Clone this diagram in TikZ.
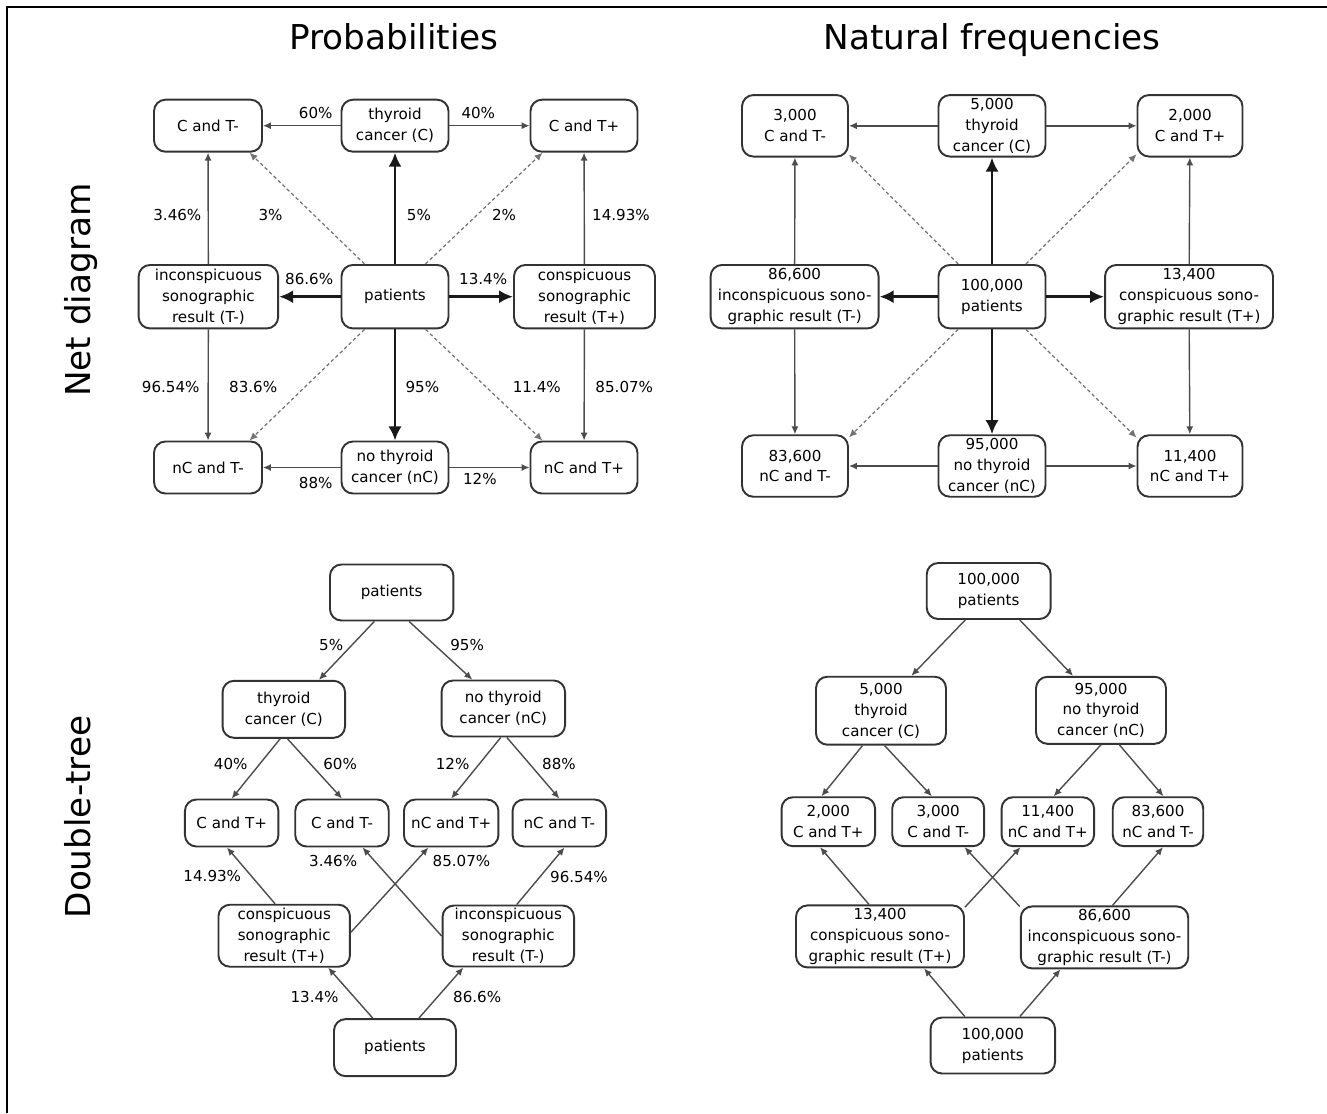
\documentclass[tikz,border=0pt]{standalone}
\usepackage{fontspec}
\setmainfont{DejaVu Sans}
\usetikzlibrary{arrows.meta}

\begin{document}
\begin{tikzpicture}[
            x=0.02cm, y=-0.02cm,
            box/.style={draw=black!80, line width=1.1pt, rounded corners=6.5pt, align=center, inner sep=1pt, font=\fontsize{8.6}{11.9}\selectfont},
            sz/.style 2 args={minimum width=#1, minimum height=#2},
            lbl/.style={inner sep=1.5pt, font=\fontsize{8.6}{10}\selectfont},
            ar/.style={draw=black!70, line width=0.8pt, -{Latex[length=4.5pt,width=4pt]}},
            bigar/.style={draw=black!90, line width=1.6pt, -{Latex[length=8pt,width=7.5pt]}},
            dotar/.style={draw=black!55, line width=0.7pt, dash pattern=on 2pt off 1.5pt, -{Latex[length=4.5pt,width=4pt]}},
            heading/.style={font=\fontsize{19.5}{22}\selectfont}
        ]
            \useasboundingbox (0,0) rectangle (1327,1113);
            \draw [line width=1.2pt] (6.7,1113) -- (6.7,6.7) -- (1327,6.7);

            \node (hp) [heading,anchor=base]          at (394,49.3) {Probabilities};
            \node (hf) [heading,anchor=base]          at (992,49.3) {Natural frequencies};
            \node (hn) [heading,anchor=base,rotate=90] at (90,290)  {Net diagram};
            \node (hd) [heading,anchor=base,rotate=90] at (90,817)  {Double-tree};

            % net diagram, probabilities
            \node (pCm)  [box,sz={2.16cm}{1.04cm}] at (208,125.7)   {C and T-};
            \node (pC)   [box,sz={2.14cm}{1.04cm}] at (395,125.7)   {thyroid\\cancer (C)};
            \node (pCp)  [box,sz={2.14cm}{1.04cm}] at (584,125.7)   {C and T+};
            \node (pTm)  [box,sz={2.79cm}{1.27cm}] at (208.4,296.7) {inconspicuous\\sonographic\\result (T-)};
            \node (pP)   [box,sz={2.14cm}{1.27cm}] at (395,296.7)   {patients};
            \node (pTp)  [box,sz={2.82cm}{1.27cm}] at (584.5,296.7) {conspicuous\\sonographic\\result (T+)};
            \node (pnCm) [box,sz={2.16cm}{1.04cm}] at (208,467.5)   {nC and T-};
            \node (pnC)  [box,sz={2.14cm}{1.04cm}] at (395,467.5)   {no thyroid\\cancer (nC)};
            \node (pnCp) [box,sz={2.14cm}{1.04cm}] at (584,467.5)   {nC and T+};

            \draw [ar]    (pC)  -- node[lbl,pos=0.32,above=2pt]    (p60)   {60\%}    (pCm);
            \draw [ar]    (pC)  -- node[lbl,pos=0.36,above=2pt]    (p40)   {40\%}    (pCp);
            \draw [ar]    (pnC) -- node[lbl,pos=0.32,below=3.4pt]  (p88)   {88\%}    (pnCm);
            \draw [ar]    (pnC) -- node[lbl,pos=0.38,below=1.5pt]  (p12)   {12\%}    (pnCp);
            \draw [ar]    (pTm) -- node[lbl,pos=0.44,left=2pt]     (p346)  {3.46\%}  (pCm);
            \draw [ar]    (pTm) -- node[lbl,pos=0.52,left=3pt]     (p9654) {96.54\%} (pnCm);
            \draw [ar]    (pTp) -- node[lbl,pos=0.44,right=2.6pt]  (p1493) {14.93\%} (pCp);
            \draw [ar]    (pTp) -- node[lbl,pos=0.52,right=4.5pt]  (p8507) {85.07\%} (pnCp);
            \draw [bigar] (pP)  -- node[lbl,pos=0.44,right=4.5pt]  (p5)    {5\%}     (pC);
            \draw [bigar] (pP)  -- node[lbl,pos=0.52,right=3.7pt]  (p95)   {95\%}    (pnC);
            \draw [bigar] (pP)  -- node[lbl,pos=0.51,above=4.8pt]  (p866)  {86.6\%}  (pTm);
            \draw [bigar] (pP)  -- node[lbl,pos=0.53,above=4.8pt]  (p134)  {13.4\%}  (pTp);
            \draw [dotar] (pP.133)  -- node[lbl,pos=0.44,left=16pt]    (p3)   {3\%}    (pCm.-33);
            \draw [dotar] (pP.47)   -- node[lbl,pos=0.44,right=6.7pt]  (p2)   {2\%}    (pCp.-147);
            \draw [dotar] (pP.-133) -- node[lbl,pos=0.52,left=13.8pt]  (p836) {83.6\%} (pnCm.33);
            \draw [dotar] (pP.-47)  -- node[lbl,pos=0.52,right=13.2pt] (p114) {11.4\%} (pnCp.147);

            % net diagram, natural frequencies
            \node (fCm)  [box,sz={2.12cm}{1.23cm}] at (795,125.8)   {3,000\\C and T-};
            \node (fC)   [box,sz={2.14cm}{1.23cm}] at (992,125.8)   {5,000\\thyroid\\cancer (C)};
            \node (fCp)  [box,sz={2.10cm}{1.23cm}] at (1190,125.8)  {2,000\\C and T+};
            \node (fTm)  [box,sz={3.36cm}{1.27cm}] at (794.6,296.7) {86,600\\inconspicuous sono-\\graphic result (T-)};
            \node (fP)   [box,sz={2.14cm}{1.27cm}] at (992,296.7)   {100,000\\patients};
            \node (fTp)  [box,sz={3.36cm}{1.27cm}] at (1189,296.7)  {13,400\\conspicuous sono-\\graphic result (T+)};
            \node (fnCm) [box,sz={2.12cm}{1.23cm}] at (795,466)     {83,600\\nC and T-};
            \node (fnC)  [box,sz={2.14cm}{1.23cm}] at (992,466)     {95,000\\no thyroid\\cancer (nC)};
            \node (fnCp) [box,sz={2.10cm}{1.23cm}] at (1190,466)    {11,400\\nC and T+};

            \draw [ar]    (fC)  -- (fCm);
            \draw [ar]    (fC)  -- (fCp);
            \draw [ar]    (fnC) -- (fnCm);
            \draw [ar]    (fnC) -- (fnCp);
            \draw [ar]    (fTm) -- (fCm);
            \draw [ar]    (fTm) -- (fnCm);
            \draw [ar]    (fTp) -- (fCp);
            \draw [ar]    (fTp) -- (fnCp);
            \draw [bigar] (fP)  -- (fC);
            \draw [bigar] (fP)  -- (fnC);
            \draw [bigar] (fP)  -- (fTm);
            \draw [bigar] (fP)  -- (fTp);
            \draw [dotar] (fP.136)  -- (fCm.-28);
            \draw [dotar] (fP.44)   -- (fCp.-152);
            \draw [dotar] (fP.-136) -- (fnCm.28);
            \draw [dotar] (fP.-44)  -- (fnCp.152);

            % double tree, probabilities
            \node (tP)   [box,sz={2.47cm}{1.12cm}] at (391.7,592.5)  {patients};
            \node (tC)   [box,sz={2.45cm}{1.14cm}] at (283.8,709.3)  {thyroid\\cancer (C)};
            \node (tnC)  [box,sz={2.47cm}{1.12cm}] at (503.3,708.5)  {no thyroid\\cancer (nC)};
            \node (tCp)  [box,sz={1.87cm}{0.94cm}] at (231.7,823)    {C and T+};
            \node (tCm)  [box,sz={1.87cm}{0.94cm}] at (342,823)      {C and T-};
            \node (tnCp) [box,sz={1.89cm}{0.94cm}] at (451.2,823)    {nC and T+};
            \node (tnCm) [box,sz={1.87cm}{0.94cm}] at (559.3,823)    {nC and T-};
            \node (tTp)  [box,sz={2.63cm}{1.24cm}] at (284.2,935.7)  {conspicuous\\sonographic\\result (T+)};
            \node (tTm)  [box,sz={2.63cm}{1.22cm}] at (508.3,936)    {inconspicuous\\sonographic\\result (T-)};
            \node (tQ)   [box,sz={2.44cm}{1.14cm}] at (395,1047.6)   {patients};

            \draw [ar] (tP.-121)  -- node[lbl,pos=0.4,left=3.2pt]   (t5)    {5\%}     (tC.40);
            \draw [ar] (tP.-59)   -- node[lbl,pos=0.4,right=7.2pt]  (t95)   {95\%}    (tnC.137);
            \draw [ar] (tC.-97)   -- node[lbl,pos=0.42,left=5.1pt]  (t40)   {40\%}    (tCp.north);
            \draw [ar] (tC.-83)   -- node[lbl,pos=0.42,right=5.5pt] (t60)   {60\%}    (tCm.north);
            \draw [ar] (tnC.-95)  -- node[lbl,pos=0.43,left=3.8pt]  (t12)   {12\%}    (tnCp.north);
            \draw [ar] (tnC.-83)  -- node[lbl,pos=0.43,right=5.4pt] (t88)   {88\%}    (tnCm.north);
            \draw [ar] (tTp.106)  -- node[lbl,pos=0.49,left=4pt]    (t1493) {14.93\%} (tCp.-101);
            \draw [ar] (tTp.3)    -- node[lbl,pos=0.84,right=7.6pt] (t8507) {85.07\%} (tnCp.-133);
            \draw [ar] (tTm.west) -- node[lbl,pos=0.85,left=7.9pt]  (t346)  {3.46\%}  (tCm.-50);
            \draw [ar] (tTm.75)   -- node[lbl,pos=0.49,right=3.8pt] (t9654) {96.54\%} (tnCm.-78);
            \draw [ar] (tQ.127)   -- node[lbl,pos=0.42,left=6.9pt]  (t134)  {13.4\%}  (tTp.-36);
            \draw [ar] (tQ.51)    -- node[lbl,pos=0.42,right=7pt]   (t866)  {86.6\%}  (tTm.-145);

            % double tree, natural frequencies
            \node (sP)   [box,sz={2.48cm}{1.12cm}] at (988.7,591)    {100,000\\patients};
            \node (sC)   [box,sz={2.6cm}{1.36cm}]  at (881,710.7)    {5,000\\thyroid\\cancer (C)};
            \node (snC)  [box,sz={2.6cm}{1.34cm}]  at (1101,710.3)   {95,000\\no thyroid\\cancer (nC)};
            \node (sCp)  [box,sz={1.87cm}{0.98cm}] at (828.3,821.7)  {2,000\\C and T+};
            \node (sCm)  [box,sz={1.84cm}{0.98cm}] at (938.2,821.7)  {3,000\\C and T-};
            \node (snCp) [box,sz={1.85cm}{0.98cm}] at (1047.8,821.7) {11,400\\nC and T+};
            \node (snCm) [box,sz={1.81cm}{0.98cm}] at (1158,821.7)   {83,600\\nC and T-};
            \node (sTp)  [box,sz={3.36cm}{1.24cm}] at (880,936.4)    {13,400\\conspicuous sono-\\graphic result (T+)};
            \node (sTm)  [box,sz={3.35cm}{1.24cm}] at (1104.5,937.4) {86,600\\inconspicuous sono-\\graphic result (T-)};
            \node (sQ)   [box,sz={2.49cm}{1.12cm}] at (992.8,1045.5) {100,000\\patients};

            \draw [ar] (sP.-129) -- (sC.49);
            \draw [ar] (sP.-43)  -- (snC.129);
            \draw [ar] (sC.-118) -- (sCp.105);
            \draw [ar] (sC.-84)  -- (sCm.104);
            \draw [ar] (snC.-90) -- (snCp.77);
            \draw [ar] (snC.-62) -- (snCm.78);
            \draw [ar] (sTp.109) -- (sCp.-108);
            \draw [ar] (sTp.19)  -- (snCp.-137);
            \draw [ar] (sTm.160) -- (sCm.-44);
            \draw [ar] (sTm.76)  -- (snCm.-79);
            \draw [ar] (sQ.134)  -- (sTp.-36);
            \draw [ar] (sQ.47)   -- (sTm.-144);
        \end{tikzpicture}
\end{document}
